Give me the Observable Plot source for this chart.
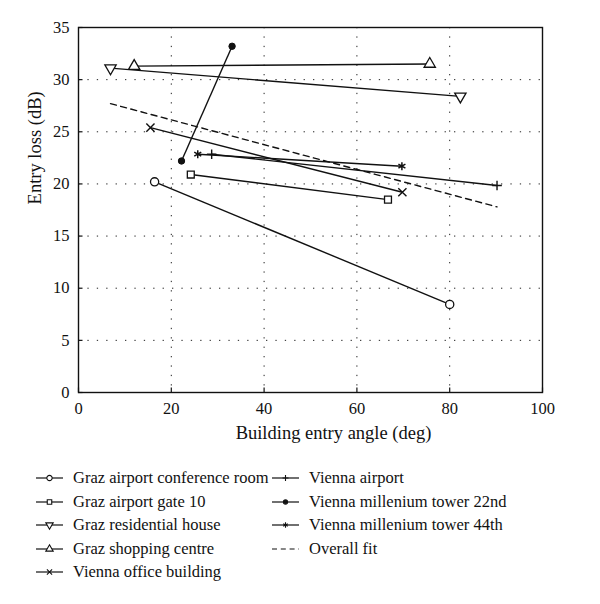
<!DOCTYPE html>
<html><head><meta charset="utf-8">
<script src="https://cdn.jsdelivr.net/npm/d3@7"></script>
<script src="https://cdn.jsdelivr.net/npm/@observablehq/plot@0.6"></script>
<style>
body{margin:0;background:#fff;font-family:"Liberation Serif",serif;}
#legend{position:relative;height:154px;}
.item{position:absolute;display:flex;align-items:center;height:23.5px;font-size:16.5px;color:#111;white-space:nowrap;}
.item svg{margin-right:10px;flex:none;}
</style></head><body><div id="chart"></div><div id="legend"></div>
<script>
// ---- data ----
const seriesNames = [
  "Graz airport conference room",
  "Graz airport gate 10",
  "Graz residential house",
  "Graz shopping centre",
  "Vienna office building",
  "Vienna airport",
  "Vienna millenium tower 22nd",
  "Vienna millenium tower 44th"
];
const seriesSymbols = ["circle", "square", "triangleDown", "triangle", "times", "plus", "dot", "asterisk"];
const angleStart = [16.4, 24.2, 6.9, 12.0, 15.5, 28.7, 22.2, 25.7];
const angleEnd   = [80.0, 66.7, 82.3, 75.7, 69.8, 90.2, 33.1, 69.7];
const lossStart  = [20.2, 20.9, 31.1, 31.3, 25.4, 22.85, 22.2, 22.85];
const lossEnd    = [8.45, 18.5, 28.4, 31.5, 19.2, 19.85, 33.2, 21.7];
const fitName = "Overall fit";
const fitAngle = [6.9, 90.2];
const fitLoss  = [27.7, 17.8];
const xTicks = [0, 20, 40, 60, 80, 100];
const yTicks = [0, 5, 10, 15, 20, 25, 30, 35];
const xLabel = "Building entry angle (deg)";
const yLabel = "Entry loss (dB)";

// ---- symbols ----
const triangleDown = {
  draw(ctx, size) {
    const y = -Math.sqrt(size / (Math.sqrt(3) * 3));
    ctx.moveTo(0, -y * 2);
    ctx.lineTo(-Math.sqrt(3) * y, y);
    ctx.lineTo(Math.sqrt(3) * y, y);
    ctx.closePath();
  }
};
const symbolStyle = {
  circle:       {symbol: "circle",   r: 4.1, fill: "#fff", stroke: "#111", strokeWidth: 1.3},
  square:       {symbol: "square",   r: 3.9, fill: "#fff", stroke: "#111", strokeWidth: 1.3},
  triangleDown: {symbol: triangleDown, r: 4.2, fill: "#fff", stroke: "#111", strokeWidth: 1.3},
  triangle:     {symbol: "triangle", r: 4.2, fill: "#fff", stroke: "#111", strokeWidth: 1.3},
  times:        {symbol: "times",    r: 3.8, fill: "none", stroke: "#111", strokeWidth: 1.4},
  plus:         {symbol: "plus",     r: 3.2, fill: "none", stroke: "#111", strokeWidth: 1.4},
  dot:          {symbol: "circle",   r: 3.2, fill: "#111", stroke: "#111", strokeWidth: 1},
  asterisk:     {symbol: "asterisk", r: 3.8, fill: "none", stroke: "#111", strokeWidth: 1.5}
};
const d3Sym = {circle: d3.symbolCircle, square: d3.symbolSquare, triangle: d3.symbolTriangle,
  times: d3.symbolTimes, plus: d3.symbolPlus, asterisk: d3.symbolAsterisk, triangleDown: triangleDown, dot: d3.symbolCircle};

// ---- tables built from arrays ----
const segs = seriesNames.map((name, i) => ({name, a0: angleStart[i], a1: angleEnd[i], l0: lossStart[i], l1: lossEnd[i]}));
const pts = seriesNames.flatMap((name, i) => [
  {name, k: seriesSymbols[i], a: angleStart[i], l: lossStart[i]},
  {name, k: seriesSymbols[i], a: angleEnd[i], l: lossEnd[i]}
]);
const fitRows = fitAngle.map((a, i) => ({a, l: fitLoss[i]}));

const dotMarks = seriesSymbols.map(k => {
  const s = symbolStyle[k];
  return Plot.dot(pts.filter(p => p.k === k), {x: "a", y: "l", symbol: s.symbol, r: s.r, fill: s.fill, stroke: s.stroke, strokeWidth: s.strokeWidth});
});

const gridStyle = {stroke: "#222", strokeOpacity: 1, strokeWidth: 1, strokeDasharray: "1.3,8.1"};
const W = 600, H = 450, ML = 78, MR = 58, MT = 27, MB = 58;

const chart = Plot.plot({
  width: W, height: H,
  marginLeft: ML, marginRight: MR, marginTop: MT, marginBottom: MB,
  style: {fontFamily: '"Liberation Serif", serif', fontSize: "16.5px", color: "#111", background: "#fff"},
  x: {domain: [0, 100], label: null},
  y: {domain: [0, 35], label: null},
  marks: [
    Plot.gridX(xTicks.slice(1, -1), gridStyle),
    Plot.gridY(yTicks.slice(1, -1), gridStyle),
    Plot.link(segs, {x1: "a0", y1: "l0", x2: "a1", y2: "l1", stroke: "#111", strokeWidth: 1.4}),
    Plot.line(fitRows, {x: "a", y: "l", stroke: "#111", strokeWidth: 1.4, strokeDasharray: "6,4.5"}),
    ...dotMarks,
    Plot.frame({stroke: "#111", strokeWidth: 1.4}),
    Plot.tickX(xTicks, {x: d => d, stroke: "#111", strokeWidth: 1.2, insetTop: H - MT - MB - 4.5}),
    Plot.tickY(yTicks, {y: d => d, stroke: "#111", strokeWidth: 1.2, insetRight: W - ML - MR - 4.5}),
    Plot.axisX(xTicks, {tickSize: 0, tickPadding: 10, label: null, fontSize: 16.5, fill: "#111"}),
    Plot.axisY(yTicks, {tickSize: 0, tickPadding: 9, label: null, fontSize: 16.5, fill: "#111"}),
    Plot.text([xLabel], {text: d => d, frameAnchor: "bottom", dx: 23, dy: 41, lineAnchor: "middle", fontSize: 18.5, fill: "#111"}),
    Plot.text([yLabel], {text: d => d, frameAnchor: "left", rotate: -90, dx: -43, dy: -5.6, lineAnchor: "middle", fontSize: 18.5, fill: "#111"})
  ]
});
document.getElementById("chart").appendChild(chart);

// ---- legend ----
const legendItems = seriesNames.map((name, i) => ({name, k: seriesSymbols[i]})).concat([{name: fitName, k: "fit"}]);
const legend = d3.select("#legend");
legendItems.forEach((it, i) => {
  const col = i < 5 ? 0 : 1, row = i < 5 ? i : i - 5;
  const div = legend.append("div").attr("class", "item")
    .style("left", (col ? 272 : 36) + "px")
    .style("top", (16.25 + row * 23.5) + "px");
  const svg = div.append("svg").attr("width", 27).attr("height", 16);
  if (it.k === "fit") {
    svg.append("line").attr("x1", 0).attr("x2", 27).attr("y1", 8).attr("y2", 8)
      .attr("stroke", "#111").attr("stroke-width", 1.2).attr("stroke-dasharray", "5,3.8");
  } else {
    svg.append("line").attr("x1", 0).attr("x2", 27).attr("y1", 8).attr("y2", 8)
      .attr("stroke", "#111").attr("stroke-width", 1.2);
    const s = symbolStyle[it.k];
    const rr = s.r * 0.65;
    svg.append("path").attr("transform", "translate(13.5,8)")
      .attr("d", d3.symbol(d3Sym[it.k], Math.PI * rr * rr)())
      .attr("fill", s.fill).attr("stroke", s.stroke).attr("stroke-width", 1.1);
  }
  div.append("span").text(it.name);
});
</script></body></html>
